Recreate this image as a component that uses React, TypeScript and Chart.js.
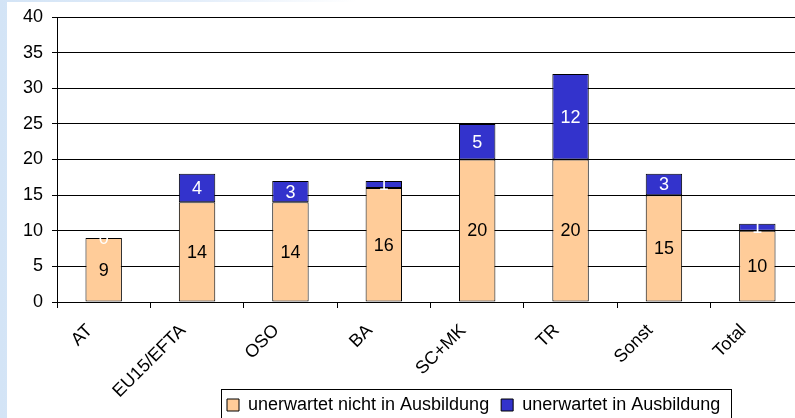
import React, { useEffect, useRef } from 'react';
import { Chart, registerables } from 'chart.js';

Chart.register(...registerables);

const categories = ['AT', 'EU15/EFTA', 'OSO', 'BA', 'SC+MK', 'TR', 'Sonst', 'Total'];
const notInTraining = [9, 14, 14, 16, 20, 20, 15, 10];
const inTraining = [0, 4, 3, 1, 5, 12, 3, 1];
const seriesLabels = ['unerwartet nicht in Ausbildung', 'unerwartet in Ausbildung'];
const seriesColors = ['#FFCC99', '#3333CC'];
const valueLabelColors = ['#000000', '#FFFFFF'];
const yMin = 0;
const yMax = 40;
const yStep = 5;

const FONT = '"Liberation Sans", Arial, sans-serif';
const LEGEND_LEFT = 208;

const valueLabels = {
  id: 'valueLabels',
  afterDatasetsDraw(chart: any) {
    const { ctx } = chart;
    ctx.save();
    ctx.font = `18px ${FONT}`;
    ctx.textAlign = 'center';
    ctx.textBaseline = 'middle';
    chart.data.datasets.forEach((ds: any, di: number) => {
      const meta = chart.getDatasetMeta(di);
      meta.data.forEach((el: any, i: number) => {
        const { x, y, base } = el.getProps(['x', 'y', 'base'], true);
        ctx.fillStyle = valueLabelColors[di];
        ctx.fillText(String(ds.data[i]), x, (y + base) / 2 + 1);
      });
    });
    ctx.restore();
  },
};

const layoutTweaks = {
  id: 'layoutTweaks',
  afterLayout(chart: any) {
    const lg = chart.legend;
    if (lg) {
      const dx = LEGEND_LEFT - lg.left;
      lg.left += dx;
      lg.right += dx;
    }
    // let the rotated category labels run down past the legend's top edge
    const xs = chart.scales.x;
    if (xs) xs.bottom = chart.height;
  },
  afterDraw(chart: any) {
    const lg = chart.legend;
    if (!lg || !lg.lineWidths) return;
    const pad = lg.options.labels.padding;
    const ctx = chart.ctx;
    ctx.save();
    ctx.strokeStyle = '#000';
    ctx.lineWidth = 1;
    const x0 = Math.round(lg.left + pad - 6) + 0.5;
    const x1 = Math.round(lg.left + lg.lineWidths[0] + 11) + 0.5;
    const y0 = Math.round(lg.top + 5) + 0.5;
    const y1 = lg.bottom + 10;
    ctx.strokeRect(x0, y0, x1 - x0, y1 - y0);
    ctx.restore();
  },
};

const barBorder = (c: any) => (c.raw === 0 ? 0 : 1);

export default function App() {
  const ref = useRef<HTMLCanvasElement>(null);

  useEffect(() => {
    if (!ref.current) return;
    const chart = new Chart(ref.current, {
      type: 'bar',
      data: {
        labels: categories,
        datasets: [
          {
            label: seriesLabels[0],
            data: notInTraining,
            backgroundColor: seriesColors[0],
            borderColor: '#000',
            borderWidth: barBorder,
            borderSkipped: false,
            barPercentage: 0.39,
            categoryPercentage: 1,
          },
          {
            label: seriesLabels[1],
            data: inTraining,
            backgroundColor: seriesColors[1],
            borderColor: '#000',
            borderWidth: barBorder,
            borderSkipped: false,
            barPercentage: 0.39,
            categoryPercentage: 1,
          },
        ],
      },
      options: {
        responsive: false,
        animation: false,
        devicePixelRatio: 1,
        layout: { padding: { left: 0, right: 3, top: 15, bottom: 0 } },
        plugins: {
          legend: {
            position: 'bottom',
            align: 'start',
            labels: {
              font: { family: FONT, size: 18 },
              color: '#000',
              boxWidth: 12,
              boxHeight: 12,
              padding: 12,
              generateLabels: (chart: any) =>
                chart.data.datasets.map((ds: any, i: number) => ({
                  text: ds.label,
                  fillStyle: ds.backgroundColor,
                  strokeStyle: '#000',
                  lineWidth: 1,
                  hidden: false,
                  datasetIndex: i,
                  fontColor: '#000',
                })),
            },
          },
          tooltip: { enabled: false },
        },
        scales: {
          x: {
            stacked: true,
            grid: {
              display: true,
              drawOnChartArea: false,
              drawTicks: true,
              tickLength: 6,
              offset: true,
              color: '#000',
            },
            border: { display: true, color: '#000', width: 1 },
            ticks: {
              font: { family: FONT, size: 18 },
              color: '#000',
              minRotation: 45,
              maxRotation: 45,
              autoSkip: false,
              padding: 12,
              labelOffset: -14,
            },
            afterFit: (s: any) => {
              s.height = 82;
              s.paddingLeft = 0;
              s.paddingRight = 0;
            },
          },
          y: {
            stacked: true,
            min: yMin,
            max: yMax,
            ticks: {
              stepSize: yStep,
              font: { family: FONT, size: 18 },
              color: '#000',
              padding: 9,
            },
            grid: { color: '#000', tickLength: 5, drawTicks: true },
            border: { display: true, color: '#000', width: 1 },
            afterFit: (s: any) => {
              s.width = 50;
              s.paddingTop = 0;
              s.paddingBottom = 0;
            },
          },
        },
      },
      plugins: [valueLabels, layoutTweaks],
    } as any);
    return () => chart.destroy();
  }, []);

  return (
    <div
      style={{
        position: 'fixed',
        left: 0,
        top: 0,
        width: 795,
        height: 418,
        overflow: 'hidden',
        background: 'linear-gradient(90deg, #d3e4f6 0%, #e4eefa 25%, #ffffff 45%)',
      }}
    >
      <div style={{ position: 'absolute', left: 7, top: 2, width: 800, height: 430, background: '#fff' }} />
      <canvas
        ref={ref}
        width={800}
        height={422}
        style={{ position: 'absolute', left: 7, top: 2, width: 800, height: 422 }}
      />
    </div>
  );
}
